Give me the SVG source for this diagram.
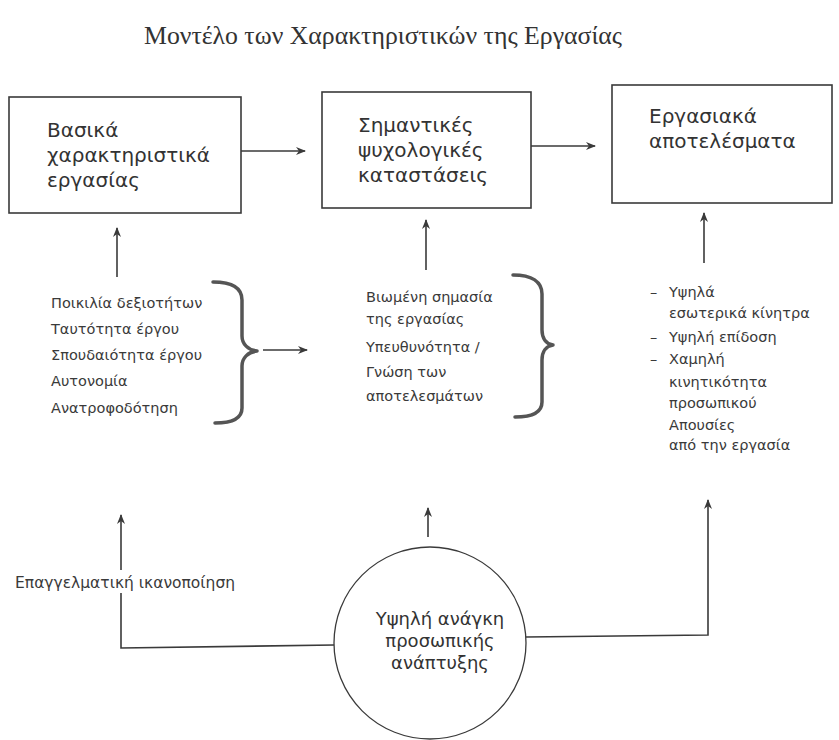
<svg xmlns="http://www.w3.org/2000/svg" width="839" height="740" viewBox="0 0 839 740">
<defs>
<style>
.bg{fill:#ffffff}
.box{fill:none;stroke:#3a3a3a;stroke-width:1.6}
.circ{fill:none;stroke:#3a3a3a;stroke-width:1.3}
.title{font-family:"Liberation Serif","DejaVu Serif",serif;font-size:25px;fill:#333}
.head{font-family:"DejaVu Sans","Noto Sans",sans-serif;font-size:20px;fill:#333}
.mid{font-family:"DejaVu Sans","Noto Sans",sans-serif;font-size:18px;fill:#333;text-anchor:middle}
.item{font-family:"DejaVu Sans","Noto Sans",sans-serif;font-size:14.5px;fill:#3a3a3a}
.conn{fill:none;stroke:#3a3a3a;stroke-width:1.6}
.brace{fill:none;stroke:#555;stroke-width:3.5;stroke-linecap:round;stroke-linejoin:round}
</style>
<marker id="arr" viewBox="0 0 10 8" refX="9" refY="4" markerWidth="10" markerHeight="8" markerUnits="userSpaceOnUse" orient="auto">
<path d="M0,0 L10,4 L0,8 L3,4 z" fill="#3a3a3a"/>
</marker>
</defs>
<rect class="bg" x="0" y="0" width="839" height="740"/>

<g id="title">
<text class="title" x="383" y="44" text-anchor="middle" textLength="478" lengthAdjust="spacingAndGlyphs">Μοντέλο των Χαρακτηριστικών της Εργασίας</text>
</g>

<g id="node-basic">
<rect class="box" x="9" y="97" width="232" height="116"/>
<text class="head" x="47" y="137">Βασικά</text>
<text class="head" x="47" y="162">χαρακτηριστικά</text>
<text class="head" x="47" y="187">εργασίας</text>
</g>

<g id="node-psych">
<rect class="box" x="322" y="92" width="209" height="116"/>
<text class="head" x="358" y="132">Σημαντικές</text>
<text class="head" x="358" y="157">ψυχολογικές</text>
<text class="head" x="358" y="182">καταστάσεις</text>
</g>

<g id="node-outcomes">
<rect class="box" x="612" y="85" width="220" height="118"/>
<text class="head" x="649" y="123">Εργασιακά</text>
<text class="head" x="649" y="148">αποτελέσματα</text>
</g>

<g id="list-characteristics">
<text class="item" x="51" y="308">Ποικιλία δεξιοτήτων</text>
<text class="item" x="51" y="334">Ταυτότητα έργου</text>
<text class="item" x="51" y="360">Σπουδαιότητα έργου</text>
<text class="item" x="51" y="386">Αυτονομία</text>
<text class="item" x="51" y="413">Ανατροφοδότηση</text>
<path class="brace" d="M213,282 C232,282 242,288 242,300 L242,336 C242,344 248,350 257,351 C248,352 242,358 242,366 L242,408 C242,418 232,423 215,423"/>
</g>

<g id="list-states">
<text class="item" x="366" y="302">Βιωμένη σημασία</text>
<text class="item" x="366" y="324">της εργασίας</text>
<text class="item" x="366" y="352">Υπευθυνότητα /</text>
<text class="item" x="366" y="377">Γνώση των</text>
<text class="item" x="366" y="401">αποτελεσμάτων</text>
<path class="brace" d="M513,275 C532,275 542,282 542,294 L542,330 C542,338 546,344 553,345 C546,346 542,352 542,360 L542,402 C542,412 532,417 515,417"/>
</g>

<g id="list-outcomes">
<text class="item" x="650" y="297">–</text>
<text class="item" x="669" y="297">Υψηλά</text>
<text class="item" x="669" y="318">εσωτερικά κίνητρα</text>
<text class="item" x="650" y="342">–</text>
<text class="item" x="669" y="342">Υψηλή επίδοση</text>
<text class="item" x="650" y="364">–</text>
<text class="item" x="669" y="364">Χαμηλή</text>
<text class="item" x="669" y="387">κινητικότητα</text>
<text class="item" x="669" y="408">προσωπικού</text>
<text class="item" x="669" y="430">Απουσίες</text>
<text class="item" x="669" y="450">από την εργασία</text>
</g>

<g id="node-growth">
<circle class="circ" cx="430" cy="643" r="96"/>
<text class="mid" x="440" y="625">Υψηλή ανάγκη</text>
<text class="mid" x="440" y="647">προσωπικής</text>
<text class="mid" x="440" y="669">ανάπτυξης</text>
</g>

<g id="label-satisfaction">
<text class="item" x="15" y="588" style="font-size:15.5px">Επαγγελματική ικανοποίηση</text>
</g>

<g id="connectors">
<line class="conn" x1="241" y1="151" x2="305" y2="151" marker-end="url(#arr)"/>
<line class="conn" x1="531" y1="146" x2="595" y2="146" marker-end="url(#arr)"/>
<line class="conn" x1="263" y1="350" x2="307" y2="350" marker-end="url(#arr)"/>
<line class="conn" x1="117" y1="277" x2="117" y2="228" marker-end="url(#arr)"/>
<line class="conn" x1="426" y1="270" x2="426" y2="220" marker-end="url(#arr)"/>
<line class="conn" x1="704" y1="263" x2="704" y2="213" marker-end="url(#arr)"/>
<line class="conn" x1="428" y1="537" x2="428" y2="508" marker-end="url(#arr)"/>
<path class="conn" d="M334,645 L121,648 L121,593"/>
<line class="conn" x1="121" y1="570" x2="121" y2="515" marker-end="url(#arr)"/>
<path class="conn" d="M526,637 L708,635 L708,500" marker-end="url(#arr)"/>
</g>
</svg>
